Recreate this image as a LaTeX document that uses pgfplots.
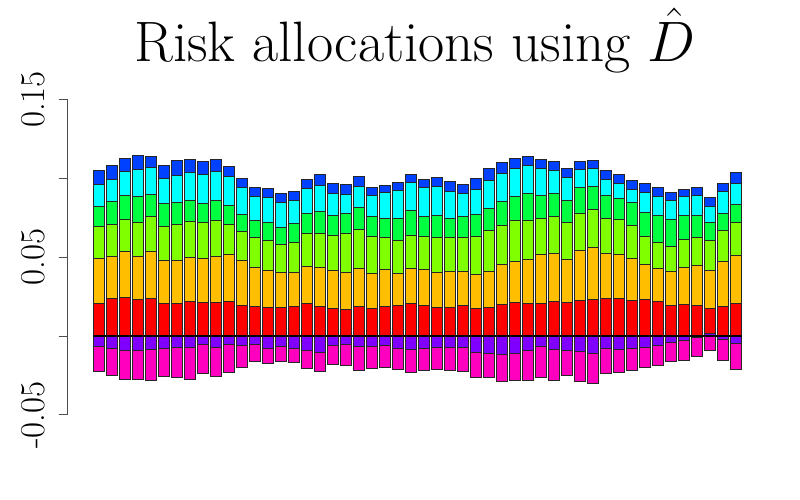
\RequirePackage{fix-cm}
\documentclass[border=0pt]{standalone}
\usepackage{fontspec}
\usepackage{pgfplots}
\usepackage{pgfplotstable}
\pgfplotsset{compat=1.18}
\definecolor{c1}{HTML}{FF0000}
\definecolor{c2}{HTML}{FFBF00}
\definecolor{c3}{HTML}{80FF00}
\definecolor{c4}{HTML}{00FF40}
\definecolor{c5}{HTML}{00FFFF}
\definecolor{c6}{HTML}{0040FF}
\definecolor{c7}{HTML}{8000FF}
\definecolor{c8}{HTML}{FF00BF}
\pgfplotstableread{
i red orange lgreen green cyan blue pp purple magenta
0 0.0207 0.0285 0.0201 0.0129 0.0140 0.0089 0 -0.0066 -0.0161
1 0.0239 0.0266 0.0203 0.0146 0.0142 0.0085 0 -0.0078 -0.0169
2 0.0245 0.0292 0.0201 0.0154 0.0150 0.0087 0 -0.0091 -0.0184
3 0.0233 0.0273 0.0216 0.0165 0.0167 0.0089 0 -0.0091 -0.0184
4 0.0239 0.0298 0.0220 0.0142 0.0171 0.0072 0 -0.0085 -0.0197
5 0.0207 0.0273 0.0218 0.0144 0.0159 0.0082 0 -0.0078 -0.0175
6 0.0207 0.0273 0.0228 0.0137 0.0171 0.0097 0 -0.0070 -0.0190
7 0.0220 0.0279 0.0228 0.0135 0.0175 0.0085 0 -0.0070 -0.0205
8 0.0211 0.0281 0.0228 0.0123 0.0182 0.0080 0 -0.0053 -0.0184
9 0.0213 0.0292 0.0228 0.0127 0.0182 0.0076 0 -0.0072 -0.0184
10 0.0220 0.0298 0.0190 0.0118 0.0184 0.0066 0 -0.0053 -0.0180
11 0.0194 0.0287 0.0180 0.0108 0.0175 0.0057 0 -0.0059 -0.0140
12 0.0188 0.0247 0.0192 0.0108 0.0150 0.0055 0 -0.0053 -0.0110
13 0.0182 0.0235 0.0190 0.0114 0.0159 0.0057 0 -0.0078 -0.0095
14 0.0182 0.0222 0.0178 0.0108 0.0156 0.0057 0 -0.0066 -0.0093
15 0.0188 0.0216 0.0188 0.0120 0.0148 0.0057 0 -0.0078 -0.0091
16 0.0207 0.0235 0.0209 0.0127 0.0156 0.0057 0 -0.0091 -0.0116
17 0.0188 0.0247 0.0216 0.0140 0.0165 0.0070 0 -0.0104 -0.0123
18 0.0178 0.0239 0.0222 0.0127 0.0140 0.0063 0 -0.0059 -0.0120
19 0.0171 0.0233 0.0247 0.0127 0.0120 0.0061 0 -0.0053 -0.0131
20 0.0188 0.0241 0.0247 0.0140 0.0133 0.0061 0 -0.0063 -0.0154
21 0.0175 0.0222 0.0235 0.0129 0.0131 0.0051 0 -0.0066 -0.0140
22 0.0188 0.0235 0.0203 0.0120 0.0165 0.0044 0 -0.0059 -0.0142
23 0.0194 0.0203 0.0209 0.0140 0.0178 0.0051 0 -0.0078 -0.0135
24 0.0205 0.0224 0.0209 0.0159 0.0178 0.0051 0 -0.0087 -0.0144
25 0.0194 0.0228 0.0209 0.0127 0.0184 0.0049 0 -0.0078 -0.0142
26 0.0182 0.0222 0.0222 0.0140 0.0184 0.0057 0 -0.0072 -0.0140
27 0.0182 0.0226 0.0218 0.0123 0.0169 0.0061 0 -0.0072 -0.0148
28 0.0194 0.0216 0.0218 0.0129 0.0148 0.0057 0 -0.0072 -0.0152
29 0.0175 0.0218 0.0241 0.0137 0.0161 0.0068 0 -0.0104 -0.0161
30 0.0184 0.0228 0.0258 0.0142 0.0175 0.0076 0 -0.0112 -0.0152
31 0.0201 0.0252 0.0249 0.0152 0.0178 0.0070 0 -0.0116 -0.0173
32 0.0213 0.0262 0.0258 0.0152 0.0178 0.0063 0 -0.0110 -0.0173
33 0.0207 0.0281 0.0245 0.0169 0.0180 0.0057 0 -0.0091 -0.0190
34 0.0207 0.0311 0.0230 0.0144 0.0171 0.0057 0 -0.0068 -0.0197
35 0.0220 0.0304 0.0235 0.0144 0.0148 0.0055 0 -0.0085 -0.0197
36 0.0213 0.0275 0.0233 0.0140 0.0146 0.0053 0 -0.0091 -0.0161
37 0.0226 0.0317 0.0235 0.0163 0.0116 0.0051 0 -0.0099 -0.0186
38 0.0233 0.0330 0.0241 0.0146 0.0114 0.0051 0 -0.0110 -0.0188
39 0.0239 0.0285 0.0222 0.0146 0.0101 0.0059 0 -0.0078 -0.0159
40 0.0239 0.0279 0.0222 0.0133 0.0095 0.0057 0 -0.0085 -0.0146
41 0.0226 0.0266 0.0209 0.0146 0.0082 0.0055 0 -0.0080 -0.0140
42 0.0233 0.0222 0.0180 0.0150 0.0127 0.0055 0 -0.0072 -0.0129
43 0.0220 0.0209 0.0165 0.0169 0.0120 0.0059 0 -0.0059 -0.0125
44 0.0194 0.0216 0.0159 0.0171 0.0120 0.0053 0 -0.0042 -0.0120
45 0.0201 0.0237 0.0173 0.0156 0.0118 0.0042 0 -0.0030 -0.0123
46 0.0197 0.0252 0.0175 0.0142 0.0125 0.0053 0 -0.0008 -0.0123
47 0.0159 0.0243 0.0186 0.0116 0.0099 0.0057 0.0017 0 -0.0093
48 0.0190 0.0283 0.0197 0.0108 0.0137 0.0051 0 -0.0019 -0.0137
49 0.0209 0.0302 0.0209 0.0114 0.0133 0.0070 0 -0.0049 -0.0165
}\datatable
\pgfplotsset{
  base/.style={
    at={(33.85bp,42.5bp)}, anchor=south west, scale only axis,
    width=349.8bp, height=157.7bp,
    xmin=-2.41, xmax=51.41, ymin=-0.05, ymax=0.15,
    clip=false, ybar stacked, bar width=0.8333,
  },
  every axis plot/.append style={draw=black!85, line width=0.5bp},
}
\begin{document}
\begin{tikzpicture}
\path[use as bounding box] (0,0) rectangle (400bp,250bp);
\begin{axis}[base,
  axis x line=none, axis y line*=left,
  axis line style={black!70, line width=0.5bp},
  ytick={-0.05,0,0.05,0.1,0.15},
  yticklabels={{-0.05},{},{0.05},{},{0.15}},
  tick align=outside, major tick length=4.5bp,
  ytick style={black!70, line width=0.5bp},
  yticklabel style={xshift=-6.5bp, rotate=90, anchor=south, inner sep=0pt,
    font=\fontsize{17.5}{20}\selectfont},
]
\addplot[fill=c7] table[x=i,y=pp] {\datatable};
\addplot[fill=c1] table[x=i,y=red] {\datatable};
\addplot[fill=c2] table[x=i,y=orange] {\datatable};
\addplot[fill=c3] table[x=i,y=lgreen] {\datatable};
\addplot[fill=c4] table[x=i,y=green] {\datatable};
\addplot[fill=c5] table[x=i,y=cyan] {\datatable};
\addplot[fill=c6] table[x=i,y=blue] {\datatable};
\end{axis}
\begin{axis}[base, hide axis]
\addplot[fill=c7] table[x=i,y=purple] {\datatable};
\addplot[fill=c8] table[x=i,y=magenta] {\datatable};
\end{axis}
\begin{axis}[at={(33.85bp,42.5bp)}, anchor=south west, scale only axis,
    width=349.8bp, height=157.7bp,
    xmin=-2.41, xmax=51.41, ymin=-0.05, ymax=0.15, hide axis, clip=false]
\addplot[black, line width=1bp, no marks] coordinates {(-0.45,0) (49.45,0)};
\end{axis}
\node[anchor=base, font=\fontsize{28.6}{32}\selectfont] at (207.5bp,219bp) {Risk allocations using $\hat{D}$};
\end{tikzpicture}
\end{document}
